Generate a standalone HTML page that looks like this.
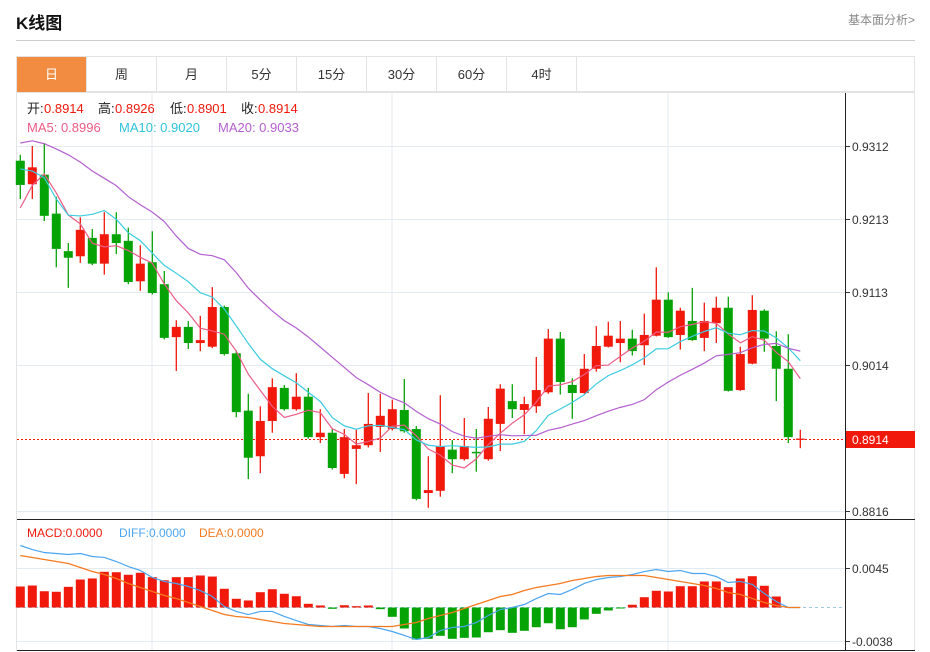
<!DOCTYPE html>
<html><head><meta charset="utf-8"><style>
body{margin:0;background:#fff;width:930px;height:652px;overflow:hidden;font-family:"Liberation Sans","Noto Sans CJK SC",sans-serif;}
.t{position:absolute;white-space:nowrap}
.tab{position:absolute;top:57px;height:35px;width:70px;line-height:35px;text-align:center;font-size:13px;color:#333;border-right:1px solid #e3e3e3;box-sizing:border-box}
</style></head><body>
<div class="t" style="left:16px;top:9px;font-size:17px;font-weight:bold;color:#111">K线图</div>
<div class="t" style="left:848px;top:11px;font-size:12px;color:#888">基本面分析&gt;</div>
<div style="position:absolute;left:16px;top:40px;width:899px;height:1px;background:#ccc"></div>
<div style="position:absolute;left:16px;top:56px;width:899px;height:36px;border:1px solid #e3e3e3;box-sizing:border-box"></div>
<div class="tab" style="left:17px;background:#f28c40;color:#fff">日</div>
<div class="tab" style="left:87px">周</div>
<div class="tab" style="left:157px">月</div>
<div class="tab" style="left:227px">5分</div>
<div class="tab" style="left:297px">15分</div>
<div class="tab" style="left:367px">30分</div>
<div class="tab" style="left:437px">60分</div>
<div class="tab" style="left:507px">4时</div>
<svg id="c" width="930" height="652" style="position:absolute;left:0;top:0" xmlns="http://www.w3.org/2000/svg"></svg>
<script>
const priorCloses=[.9223,.9297,.9312,.932,.9398,.9392,.9392,.938,.9427,.9372,.9312,.9307,.9462,.938,.9208,.913,.914,.930,.931];
const opens=[.9292,.9260,.9273,.9220,.9169,.9162,.9187,.9152,.9192,.9183,.9128,.9154,.9124,.9052,.9066,.9044,.9039,.9093,.9030,.8952,.8890,.8938,.8983,.8954,.8971,.8916,.8922,.8866,.8900,.8905,.8930,.8927,.8953,.8927,.8840,.8843,.8899,.8886,.8896,.8886,.8934,.8965,.8953,.8958,.8977,.9050,.8987,.8976,.9009,.9039,.9044,.9050,.9041,.9054,.9103,.9055,.9074,.9051,.9071,.9092,.8980,.9016,.9088,.9040,.9009,.8914];
const highs=[.9300,.9312,.9316,.9243,.9180,.9215,.9199,.9222,.9222,.9201,.9177,.9196,.9142,.9075,.9074,.9081,.9120,.9095,.9034,.8975,.8958,.8996,.8987,.9003,.8983,.8954,.8927,.8927,.8926,.8976,.8975,.8967,.8995,.8931,.8890,.8973,.8912,.8942,.8927,.8957,.8988,.8988,.8971,.9025,.9063,.9059,.8996,.9029,.9067,.9073,.9074,.9062,.9084,.9147,.9113,.9092,.9119,.9099,.9107,.9107,.9039,.9109,.9090,.9060,.9056,.8926];
const lows=[.9240,.9240,.9210,.9147,.9119,.9153,.9150,.9137,.9165,.9124,.9115,.9110,.9049,.9006,.9036,.9033,.9037,.9027,.8943,.8859,.8867,.8922,.8952,.8952,.8914,.8908,.8872,.8860,.8852,.8902,.8896,.8925,.8922,.8830,.8820,.8835,.8867,.8884,.8869,.8884,.8897,.8942,.8920,.8949,.8975,.8974,.8941,.8975,.9005,.9038,.9018,.9027,.9014,.9053,.9051,.9035,.9047,.9033,.9044,.8978,.8979,.9015,.9032,.8965,.8908,.8901];
const closes=[.9259,.9283,.9217,.9172,.9160,.9198,.9152,.9192,.9180,.9127,.9152,.9112,.9051,.9066,.9044,.9048,.9093,.9029,.8950,.8888,.8938,.8984,.8954,.8971,.8916,.8922,.8874,.8916,.8905,.8934,.8945,.8954,.8924,.8832,.8844,.8904,.8886,.8904,.8894,.8941,.8982,.8954,.8961,.8980,.9050,.8991,.8976,.9009,.9040,.9054,.9050,.9033,.9055,.9103,.9052,.9088,.9048,.9074,.9092,.8979,.9029,.9089,.9050,.9009,.8916,.8914];
const macdHist=[.00239,.00250,.00185,.00179,.00235,.00318,.00330,.00406,.00401,.00372,.00395,.00345,.00310,.00345,.00345,.00364,.00352,.00213,.00099,.00080,.00174,.00208,.00156,.00128,.00042,.00023,-.00015,.00026,.00015,.00023,-.00019,-.00106,-.00239,-.00364,-.00356,-.00322,-.00356,-.00345,-.00341,-.00281,-.00258,-.00288,-.00265,-.00224,-.00179,-.00247,-.00224,-.00136,-.00072,-.00034,-.00011,.00031,.00117,.00190,.00182,.00242,.00242,.00296,.00296,.00231,.00330,.00356,.00247,.00125,0,0];
const diffLine=[.00705,.00659,.00625,.00614,.00603,.00614,.00580,.00569,.00523,.00466,.00421,.00341,.00296,.00273,.00239,.00193,.00125,.00011,-.00045,-.00080,-.00045,-.00045,-.00102,-.00148,-.00193,-.00205,-.00216,-.00205,-.00216,-.00216,-.00239,-.00273,-.00318,-.00364,-.00341,-.00262,-.00227,-.00216,-.00171,-.00091,-.00023,0,.00034,.00102,.00159,.00148,.00205,.00273,.00318,.00341,.00352,.00375,.00409,.00432,.00409,.00421,.00387,.00387,.00352,.00284,.00296,.00262,.00159,.00068,0,0];
const deaLine=[.00591,.00569,.00546,.00523,.00500,.00455,.00409,.00375,.00330,.00273,.00227,.00182,.00136,.00102,.00057,.00011,-.00034,-.00080,-.00102,-.00114,-.00136,-.00159,-.00182,-.00193,-.00205,-.00216,-.00216,-.00216,-.00216,-.00216,-.00216,-.00216,-.00193,-.00171,-.00125,-.00091,-.00057,-.00011,.00034,.00080,.00125,.00148,.00193,.00227,.00250,.00273,.00307,.00330,.00352,.00364,.00364,.00364,.00364,.00341,.00318,.00296,.00273,.00250,.00216,.00171,.00148,.00102,.00057,.00023,0,0];
const priceTicks=[.9312,.9213,.9113,.9014,.8816];
const macdTicks=[.0045,-.0038];
const lastPrice=.8914;

const NS="http://www.w3.org/2000/svg";
const svg=document.getElementById('c');
function el(tag,attrs,parent){const e=document.createElementNS(NS,tag);for(const k in attrs)e.setAttribute(k,attrs[k]);(parent||svg).appendChild(e);return e;}
const X=i=>20.3+12*i;
const Y=v=>146+(0.9312-v)*7352;
const MY=v=>607.5-v*8795;
const RED="#f0190b",GREEN="#06a306";

// frame
let fr=el('rect',{x:16.5,y:92.5,width:898,height:558,fill:'none',stroke:'#e3e3e3'});


// vertical grid
[152,392,668].forEach(x=>{let g=el('line',{x1:x,x2:x,y1:93,y2:651,stroke:'#e3eaf0'});

});
// price grid + labels
priceTicks.forEach(v=>{const y=Math.round(Y(v))+.5;
let g=el('line',{x1:17,x2:845,y1:y,y2:y,stroke:'#e3eaf0'});


el('line',{x1:846,x2:850,y1:y,y2:y,stroke:'#333'});
let t=el('text',{x:852,y:y+4.5,'font-size':12,fill:'#333'});t.textContent=v.toFixed(4);

});
macdTicks.forEach(v=>{const y=Math.round(MY(v))+.5;
let g=el('line',{x1:17,x2:845,y1:y,y2:y,stroke:'#e3eaf0'});


el('line',{x1:846,x2:850,y1:y,y2:y,stroke:'#333'});
let t=el('text',{x:852,y:y+4.5,'font-size':12,fill:'#333'});t.textContent=v.toFixed(4);

});
// axes
let ax=el('line',{x1:845.5,x2:845.5,y1:93,y2:651,stroke:'#222'});


let sep=el('line',{x1:17,x2:915,y1:519.5,y2:519.5,stroke:'#222'});


let bl=el('line',{x1:17,x2:915,y1:650.5,y2:650.5,stroke:'#222'});



// last price line
const ly=Math.round(Y(lastPrice))+.5;
let lp=el('line',{x1:17,x2:845,y1:ly,y2:ly,stroke:RED,'stroke-dasharray':'2,2'});


let lb=el('rect',{x:846,y:ly-8.5,width:69,height:17,fill:RED});


let lt=el('text',{x:852,y:ly+4.5,'font-size':12,fill:'#fff'});lt.textContent=lastPrice.toFixed(4);



// candles
for(let i=0;i<closes.length;i++){
 const up=closes[i]>=opens[i];const col=up?RED:GREEN;const x=X(i);
 const g=el('g',{});
 
 
 el('line',{x1:x,x2:x,y1:Y(highs[i]),y2:Y(lows[i]),stroke:col,'stroke-width':1.3},g);
 const t=Y(Math.max(opens[i],closes[i])),b=Y(Math.min(opens[i],closes[i]));
 el('rect',{x:x-4.5,y:t,width:9,height:Math.max(b-t,1.2),fill:col},g);
}
// moving averages
const all=priorCloses.concat(closes);const P=priorCloses.length;
function ma(n){const r=[];for(let i=0;i<closes.length;i++){let s=0;for(let k=0;k<n;k++)s+=all[P+i-k];r.push(s/n);}return r;}
[[5,'#ec5b86','ma5-line'],[10,'#3ccbe0','ma10-line'],[20,'#b45fcf','ma20-line']].forEach(([n,c,nm])=>{
 const m=ma(n);const p=el('polyline',{points:m.map((v,i)=>X(i)+','+Y(v)).join(' '),fill:'none',stroke:c,'stroke-width':1.2});
 
 
});
// macd
let z=el('line',{x1:17,x2:845,y1:MY(0),y2:MY(0),stroke:'#9cc9e0','stroke-dasharray':'3,3'});


macdHist.forEach((v,i)=>{if(v===0)return;const y0=MY(0),y1=MY(v);
 const r=el('rect',{x:X(i)-4.5,y:Math.min(y0,y1),width:9,height:Math.max(Math.abs(y1-y0),1),fill:v>0?RED:GREEN});
 
 
});
let dl=el('polyline',{points:diffLine.map((v,i)=>X(i)+','+MY(v)).join(' '),fill:'none',stroke:'#4aa5f0','stroke-width':1.2});


let de=el('polyline',{points:deaLine.map((v,i)=>X(i)+','+MY(v)).join(' '),fill:'none',stroke:'#f57a1f','stroke-width':1.3});



// legends
function tx(x,y,s,c,nm){const t=el('text',{x:x,y:y,'font-size':13,fill:c});t.textContent=s;
 
 return t;}
tx(27,113,'开:','#222','legend-open-label');tx(44,113,'0.8914',RED,'legend-open-value');
tx(98,113,'高:','#222','legend-high-label');tx(115,113,'0.8926',RED,'legend-high-value');
tx(170,113,'低:','#222','legend-low-label');tx(187,113,'0.8901',RED,'legend-low-value');
tx(241,113,'收:','#222','legend-close-label');tx(258,113,'0.8914',RED,'legend-close-value');
tx(27,132,'MA5: 0.8996','#ec5b86','legend-ma5');
tx(119,132,'MA10: 0.9020','#2fc3da','legend-ma10');
tx(218,132,'MA20: 0.9033','#b45fcf','legend-ma20');
const m1=tx(27,537,'MACD:0.0000',RED,'legend-macd');m1.setAttribute('font-size',12);
const m2=tx(119,537,'DIFF:0.0000','#4aa5f0','legend-diff');m2.setAttribute('font-size',12);
const m3=tx(199,537,'DEA:0.0000','#f57a1f','legend-dea');m3.setAttribute('font-size',12);
</script>
</body></html>
